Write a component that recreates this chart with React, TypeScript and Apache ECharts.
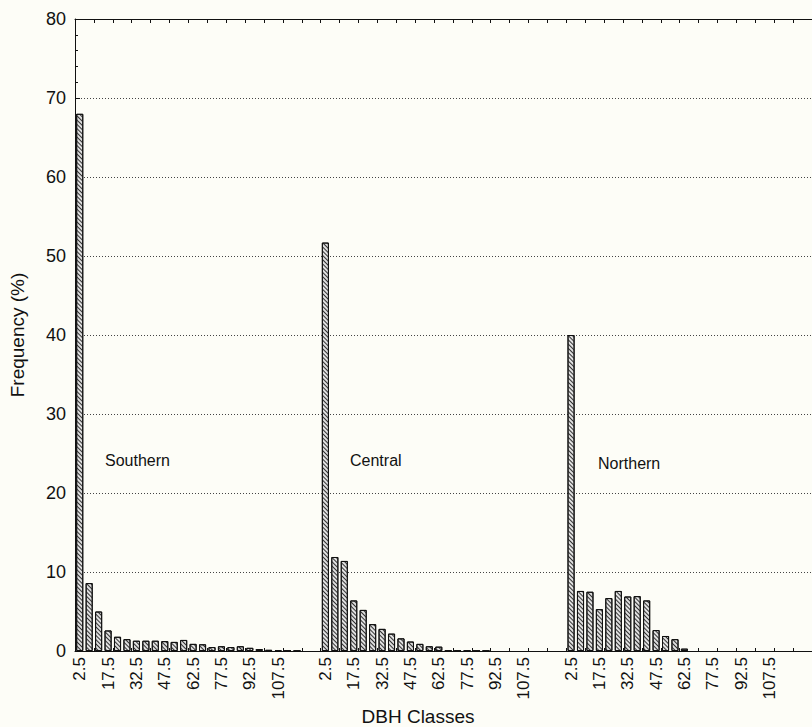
import React, { useEffect, useRef } from "react";
import * as echarts from "echarts";

const groupCategories = [
  "2.5", "7.5", "12.5", "17.5", "22.5", "27.5", "32.5", "37.5", "42.5", "47.5", "52.5", "57.5",
  "62.5", "67.5", "72.5", "77.5", "82.5", "87.5", "92.5", "97.5", "102.5", "107.5", "112.5", "117.5",
];
const gapSlots = ["", ""];
const regionNames = ["Southern", "Central", "Northern"];
const southern = [68, 8.6, 5.0, 2.6, 1.8, 1.5, 1.3, 1.3, 1.3, 1.25, 1.15, 1.4, 0.9, 0.85, 0.5, 0.6, 0.5, 0.6, 0.4, 0.25, 0.15, 0.1, 0.05, 0.02];
const central = [51.7, 11.9, 11.4, 6.4, 5.2, 3.4, 2.8, 2.2, 1.6, 1.2, 0.9, 0.6, 0.55, 0.05, 0.05, 0.03, 0.02, 0.02, 0, 0, 0, 0, 0, 0];
const northern = [40, 7.6, 7.5, 5.3, 6.7, 7.6, 6.9, 6.95, 6.4, 2.65, 1.9, 1.5, 0.3, 0, 0, 0, 0, 0, 0, 0, 0, 0, 0, 0];
const yTicks = [0, 10, 20, 30, 40, 50, 60, 70, 80];

const FONT = "'Liberation Sans', Arial, sans-serif";

export default function App() {
  const ref = useRef<HTMLDivElement>(null);
  useEffect(() => {
    if (!ref.current) return;
    const chart = echarts.init(ref.current, null, { renderer: "svg" });
    const groups = [southern, central, northern];
    const cats: string[] = [];
    const data: (number | string)[] = [];
    groups.forEach((g) => {
      groupCategories.forEach((c, i) => {
        cats.push(c);
        data.push(g[i] > 0 ? g[i] : "-");
      });
      gapSlots.forEach(() => {
        cats.push("");
        data.push("-");
      });
    });
    const slot = groupCategories.length + gapSlots.length;
    const labelInterval = (index: number) => {
      const i = index % slot;
      return i < groupCategories.length && i % 3 === 0;
    };
    const axisLineStyle = { color: "#111", width: 1 };
    chart.setOption({
      animation: false,
      backgroundColor: "#fdfdf7",
      textStyle: { fontFamily: FONT },
      grid: { left: 75, top: 19, width: 741, height: 632 },
      xAxis: [
        {
          type: "category",
          data: cats,
          position: "bottom",
          boundaryGap: true,
          axisLine: { lineStyle: axisLineStyle },
          axisTick: { show: true, inside: true, interval: 1, length: 3, lineStyle: axisLineStyle },
          axisLabel: {
            rotate: 90,
            interval: labelInterval,
            fontSize: 17,
            color: "#111",
            fontFamily: FONT,
            margin: 6,
          },
          splitLine: { show: false },
        },
        {
          type: "category",
          data: cats,
          position: "top",
          boundaryGap: true,
          axisLine: { lineStyle: axisLineStyle },
          axisTick: { show: true, inside: true, interval: 1, length: 4, lineStyle: axisLineStyle },
          axisLabel: { show: false },
          splitLine: { show: false },
        },
      ],
      yAxis: {
        type: "value",
        min: yTicks[0],
        max: yTicks[yTicks.length - 1],
        interval: 10,
        name: "Frequency (%)",
        nameLocation: "middle",
        nameGap: 48,
        nameTextStyle: { fontSize: 19, color: "#111", fontFamily: FONT },
        axisLine: { show: true, lineStyle: axisLineStyle },
        axisTick: { show: true, inside: true, length: 5, lineStyle: axisLineStyle },
        minorTick: { show: true, splitNumber: 5, length: 3, lineStyle: axisLineStyle },
        axisLabel: { fontSize: 18, color: "#111", fontFamily: FONT, margin: 9 },
        splitLine: { show: true, lineStyle: { type: [1, 2], color: "#444", width: 1 } },
      },
      series: [
        {
          type: "bar",
          data,
          xAxisIndex: 0,
          barCategoryGap: "25%",
          itemStyle: {
            color: "#e0e0e0",
            borderColor: "#111",
            borderWidth: 1,
            decal: {
              symbol: "rect",
              symbolSize: 1,
              color: "#333",
              dashArrayX: [1, 0],
              dashArrayY: [1, 1.6],
              rotation: Math.PI / 4,
            },
          },
        },
      ],
      graphic: [
        { type: "text", x: 105, y: 452, style: { text: regionNames[0], fontSize: 16, fill: "#111", fontFamily: FONT } },
        { type: "text", x: 350, y: 452, style: { text: regionNames[1], fontSize: 16, fill: "#111", fontFamily: FONT } },
        { type: "text", x: 598, y: 455, style: { text: regionNames[2], fontSize: 16, fill: "#111", fontFamily: FONT } },
        {
          type: "text",
          x: 418,
          y: 707,
          style: { text: "DBH Classes", fontSize: 19, fill: "#111", fontFamily: FONT, align: "center", verticalAlign: "top" },
        },
      ],
    });
    return () => chart.dispose();
  }, []);
  return <div ref={ref} style={{ position: "absolute", left: 0, top: 0, width: 812, height: 727 }} />;
}
